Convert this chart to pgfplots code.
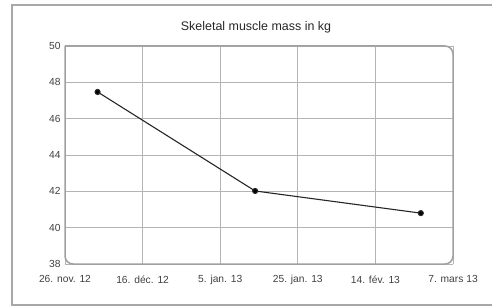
\documentclass[border=0pt]{standalone}
\usepackage{pgfplots}
\pgfplotsset{compat=1.18}
\usepackage{fontspec}
\setmainfont{Liberation Sans}
\definecolor{gridc}{HTML}{B4B4B4}
\definecolor{framec}{HTML}{A0A0A0}
\definecolor{outerc}{HTML}{A8A8A8}
\begin{document}
\begin{tikzpicture}[x=1bp,y=1bp]
\useasboundingbox (0,0) rectangle (492,307);
\draw[outerc, line width=1.2bp] (12,2) rectangle (500,302);
\node[font=\fontsize{12.5}{14}\selectfont, text=black!85] at (256,280) {Skeletal muscle mass in kg};
\begin{axis}[
  at={(65bp,43bp)}, anchor=south west,
  scale only axis, width=388bp, height=218bp,
  xmin=0, xmax=100, ymin=38, ymax=50,
  xtick={0,20,40,60,80,100},
  xticklabels={26. nov. 12, 16. déc. 12, 5. jan. 13, 25. jan. 13, 14. fév. 13, 7. mars 13},
  ytick={38,40,...,50},
  axis line style={draw=none},
  major tick length=0pt,
  grid=major,
  major grid style={gridc, line width=0.9bp},
  tick label style={font=\fontsize{10.3}{12}\selectfont, text=black!75},
  /pgf/number format/assume math mode=true,
  xticklabel style={yshift=-8bp},
  yticklabel style={xshift=-1bp},
  clip=false,
]
\draw[framec, line width=1.5bp, rounded corners=8bp] (rel axis cs:0,1) -- (rel axis cs:1,1) -- (rel axis cs:1,0) -- (rel axis cs:0,0) -- (rel axis cs:0,1);
\addplot[black!85, line width=1.1bp, mark=*, mark size=2.5bp, mark options={fill=black}] coordinates {
  (8.4,47.47) (49,42.02) (91.7,40.8)
};
\end{axis}
\end{tikzpicture}
\end{document}
